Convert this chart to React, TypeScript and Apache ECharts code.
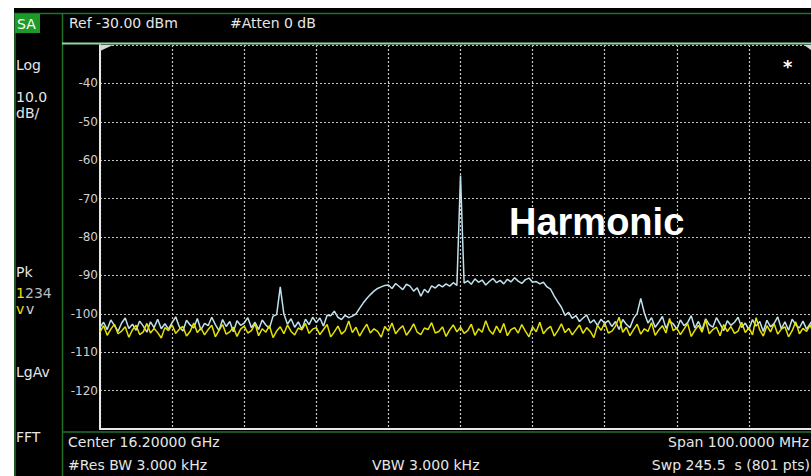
import React, { useEffect, useRef } from "react";
import * as echarts from "echarts";

// Frequency axis: offset from centre, MHz (span 100 MHz, 10 MHz / div)
const freqStartMHz = -50;
const freqStepMHz = 0.5;
const freqMin = -50;
const freqMax = 50;
const freqInterval = 10;

// Amplitude axis, dBm (Ref -30 dBm, 10 dB/div)
const ampMin = -130;
const ampMax = -30;
const ampInterval = 10;

// Trace 2 (Pk, light blue) – dBm every 0.5 MHz from -50 to +50 MHz
const trace2 = [
  -103.5, -102.2, -104.1, -101.6, -103.0, -104.6, -102.4, -101.1, -103.8, -102.7, -104.3, -101.9, -103.2, -104.8, -102.1, -103.6, -101.4, -103.9, -102.6, -104.0,
  -102.3, -100.8, -103.4, -104.5, -101.7, -102.9, -103.7, -101.2, -104.2, -102.5, -103.1, -100.9, -102.8, -104.4, -101.5, -103.3, -102.0, -104.7, -101.8, -103.0,
  -102.4, -101.0, -103.6, -102.2, -104.1, -101.6, -102.9, -103.8, -100.6, -100.2, -93.0, -100.0, -102.7, -101.3, -103.5, -102.1, -104.0, -101.4, -102.8, -100.9,
  -102.3, -101.1, -103.2, -100.4, -100.5, -99.3, -100.9, -101.5, -100.4, -101.0, -100.6, -100.0, -98.6, -97.2, -96.0, -95.0, -94.1, -93.4, -93.0, -92.6,
  -92.5, -93.4, -92.1, -92.9, -93.7, -92.3, -92.8, -94.1, -93.2, -95.4, -93.6, -94.5, -92.7, -93.3, -92.4, -93.0, -92.2, -92.8, -91.9, -92.6,
  -64.0,
  -92.0, -91.4, -92.3, -90.9, -91.8, -91.2, -92.5, -91.6, -90.8, -91.9, -91.3, -92.2, -91.0, -91.7, -90.6, -91.5, -92.1, -91.1, -90.7, -91.8,
  -91.6, -92.2, -91.8, -93.0, -93.6, -95.4, -96.9, -98.3, -100.4, -99.6, -101.2, -100.5, -102.0, -101.1, -100.3, -102.4, -101.6, -103.0, -101.4, -102.5,
  -101.8, -103.3, -102.0, -104.1, -101.5, -102.7, -103.6, -101.2, -99.9, -96.0, -99.8, -102.4, -101.0, -103.5, -102.2, -100.7, -103.8, -101.9, -102.6, -104.0,
  -101.6, -103.1, -102.3, -100.5, -103.7, -102.0, -104.2, -101.3, -102.8, -103.5, -101.0, -102.6, -104.4, -101.8, -103.0, -102.2, -100.9, -103.6, -102.4, -104.1,
  -101.5, -103.2, -102.0, -104.6, -101.7, -103.4, -102.5, -100.8, -103.9, -102.1, -104.3, -101.4, -102.9, -103.7, -101.9, -104.0, -102.6, -101.2, -103.5, -102.3,
];

// Trace 1 (LgAv, yellow) – dBm every 0.5 MHz from -50 to +50 MHz
const trace1 = [
  -104.8, -103.1, -105.6, -104.0, -102.7, -105.2, -104.5, -103.4, -106.1, -104.2, -103.0, -105.4, -104.7, -102.5, -105.0, -103.8, -104.9, -106.3, -103.6, -104.4,
  -102.9, -105.1, -104.0, -103.3, -105.8, -104.6, -102.4, -104.9, -103.7, -105.5, -104.1, -103.0, -106.0, -104.3, -102.8, -105.3, -104.7, -103.5, -105.9, -104.0,
  -103.2, -105.0, -104.4, -102.6, -105.7, -103.9, -104.8, -103.1, -106.2, -104.5, -103.4, -105.2, -102.9, -104.6, -105.5, -103.7, -104.2, -102.5, -105.1, -104.0,
  -103.6, -105.4, -104.1, -102.8, -106.0, -104.7, -103.2, -105.3, -104.4, -101.9, -104.9, -103.5, -105.8, -104.2, -102.7, -105.0, -103.9, -104.6, -106.1, -103.3,
  -104.5, -102.4, -105.2, -104.0, -103.1, -105.6, -104.3, -102.6, -104.8, -105.4, -103.7, -104.1, -102.3, -105.0, -104.6, -103.4, -105.9, -104.2, -102.9, -104.7,
  -103.5, -105.1, -104.4, -102.7, -105.6, -103.9, -104.8, -101.8, -104.3, -105.3, -103.2, -104.9, -102.5, -105.7, -104.1, -103.6, -105.0, -102.8, -104.5, -106.0,
  -103.4, -104.7, -102.2, -105.2, -104.0, -103.3, -105.8, -104.4, -102.6, -104.9, -103.8, -105.5, -104.2, -102.9, -105.1, -103.6, -104.6, -106.2, -103.0, -104.3,
  -102.4, -105.0, -104.5, -103.2, -100.9, -104.8, -103.5, -105.7, -104.1, -102.7, -105.3, -103.9, -104.6, -102.3, -105.6, -104.2, -103.1, -105.0, -101.2, -104.4,
  -103.7, -105.4, -104.0, -102.5, -105.9, -104.3, -103.0, -104.8, -101.6, -105.2, -104.1, -103.5, -105.7, -102.8, -104.6, -103.3, -105.1, -104.5, -102.2, -104.9,
  -103.6, -105.5, -101.0, -104.2, -105.8, -103.1, -104.7, -102.6, -105.3, -104.0, -103.4, -106.0, -104.4, -102.1, -105.2, -103.8, -104.6, -102.9, -105.4, -104.1,
  -103.5,
];

const headerTexts = ["Ref -30.00 dBm", "#Atten 0 dB"];
const footerTexts = ["Center 16.20000 GHz", "Span 100.0000 MHz", "#Res BW 3.000 kHz", "VBW 3.000 kHz", "Swp 245.5  s (801 pts)"];
const annotation = "Harmonic";

const PANEL_FONT = '14px "DejaVu Sans"';
const HDR_FONT = '14px "DejaVu Sans"';
const FOOT_FONT = '14px "DejaVu Sans"';
const DARK_GREEN = "#22702c";
const LIGHT_GREEN = "#8fd8a0";
const TXT = "#e6e6e6";

function txt(text: string, x: number, y: number, font: string, fill: string, align = "left") {
  return {
    type: "text",
    silent: true,
    z: 20,
    style: { text, x, y, font, fill, align, verticalAlign: "middle" },
  };
}

function ln(x1: number, y1: number, x2: number, y2: number, stroke: string, lineWidth: number) {
  return {
    type: "line",
    silent: true,
    z: 15,
    shape: { x1, y1, x2, y2 },
    style: { stroke, lineWidth },
  };
}

export default function App() {
  const ref = useRef<HTMLDivElement>(null);

  useEffect(() => {
    const chart = echarts.init(ref.current!, null, { renderer: "svg" });
    const toPairs = (arr: number[]) => arr.map((v, i) => [freqStartMHz + i * freqStepMHz, v]);

    chart.setOption({
      animation: false,
      backgroundColor: "#000000",
      grid: { left: 100, top: 45, right: 0, bottom: 47, containLabel: false },
      xAxis: {
        type: "value",
        min: freqMin,
        max: freqMax,
        interval: freqInterval,
        axisLabel: { show: false },
        axisTick: { show: false },
        axisLine: { show: true, onZero: false, lineStyle: { color: "#e8e8e8", width: 2 } },
        splitLine: { show: true, lineStyle: { color: "#c4c4c4", type: [2, 2], width: 1.2 } },
      },
      yAxis: {
        type: "value",
        min: ampMin,
        max: ampMax,
        interval: ampInterval,
        axisTick: { show: false },
        axisLine: { show: true, onZero: false, lineStyle: { color: "#e8e8e8", width: 2 } },
        axisLabel: {
          showMinLabel: false,
          showMaxLabel: false,
          color: "#d0d0d0",
          fontFamily: "DejaVu Sans",
          fontSize: 12,
          margin: 2,
        },
        splitLine: { show: true, lineStyle: { color: "#c4c4c4", type: [2, 2], width: 1.2 } },
      },
      series: [
        {
          name: "Trace 2",
          type: "line",
          data: toPairs(trace2),
          symbol: "none",
          lineStyle: { color: "#bfe2ec", width: 1.5 },
          z: 3,
        },
        {
          name: "Trace 1",
          type: "line",
          data: toPairs(trace1),
          symbol: "none",
          lineStyle: { color: "#e6e200", width: 1.5 },
          z: 4,
        },
      ],
      graphic: [
        // white page strips
        { type: "rect", silent: true, z: 30, shape: { x: 0, y: 0, width: 821, height: 8 }, style: { fill: "#ffffff" } },
        { type: "rect", silent: true, z: 30, shape: { x: 0, y: 0, width: 14, height: 476 }, style: { fill: "#ffffff" } },
        // panel borders
        ln(14, 13.5, 821, 13.5, DARK_GREEN, 1.5),
        ln(15, 13, 15, 476, DARK_GREEN, 1.5),
        ln(62.5, 13, 62.5, 476, DARK_GREEN, 1.5),
        ln(62, 43.5, 821, 43.5, LIGHT_GREEN, 2),
        ln(62, 432, 821, 432, DARK_GREEN, 1.5),
        // SA box
        { type: "rect", silent: true, z: 16, shape: { x: 15, y: 14, width: 25, height: 19 }, style: { fill: "#1e9a2a" } },
        // plot corner marks
        { type: "polygon", silent: true, z: 16, shape: { points: [[100, 45], [113, 45], [100, 51]] }, style: { fill: "#d8d8d8" } },
        { type: "polygon", silent: true, z: 16, shape: { points: [[804, 45], [811, 45], [811, 50]] }, style: { fill: "#d8d8d8" } },
        // left panel
        txt("SA", 17, 23.5, PANEL_FONT, "#ffffff"),
        txt("Log", 16, 65, PANEL_FONT, TXT),
        txt("10.0", 16, 97, PANEL_FONT, TXT),
        txt("dB/", 16, 113, PANEL_FONT, TXT),
        txt("Pk", 16, 272, PANEL_FONT, TXT),
        txt("1", 16, 293, PANEL_FONT, "#f0e000"),
        txt("234", 25, 293, PANEL_FONT, "#bcbcbc"),
        txt("v", 16, 309, PANEL_FONT, "#f0e000"),
        txt("v", 26, 309, PANEL_FONT, "#d0d0d0"),
        txt("LgAv", 16, 372, PANEL_FONT, TXT),
        txt("FFT", 16, 437, PANEL_FONT, TXT),
        // header
        txt(headerTexts[0], 69, 22.5, HDR_FONT, TXT),
        txt(headerTexts[1], 230, 22.5, HDR_FONT, TXT),
        // footer
        txt(footerTexts[0], 68, 442, FOOT_FONT, TXT),
        txt(footerTexts[1], 809, 442, FOOT_FONT, TXT, "right"),
        txt(footerTexts[2], 68, 465, FOOT_FONT, TXT),
        txt(footerTexts[3], 372, 465, FOOT_FONT, TXT),
        txt(footerTexts[4], 810, 465, FOOT_FONT, TXT, "right"),
        // marker star & annotation
        txt("*", 783, 66, 'bold 18px "DejaVu Sans"', "#ffffff"),
        txt(annotation, 509, 222, 'bold 38px "Liberation Sans"', "#ffffff"),
      ],
    });

    return () => chart.dispose();
  }, []);

  return (
    <div
      ref={ref}
      style={{ position: "fixed", left: 0, top: 0, width: 821, height: 476, background: "#ffffff" }}
    />
  );
}
